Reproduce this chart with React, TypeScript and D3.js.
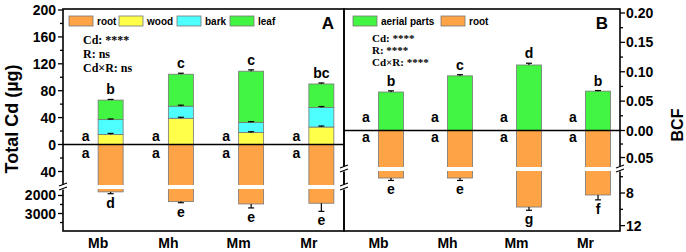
import React from "react";
import * as d3 from "d3";

const categories = ["Mb", "Mh", "Mm", "Mr"];
// Panel A (µg)
const woodA = [15, 39, 18, 26];
const barkA = [22, 18, 15, 29];
const leafA = [29, 47.5, 76, 35];
const woodErr = [1.5, 1.5, 1, 1.5];
const barkErr = [1, 1.5, 1, 1.5];
const leafErr = [1, 1.5, 2, 1.5];
const rootA = [1800, 2340, 2470, 2430];
const rootAErr = [100, 60, 220, 450];
const shootLetters = ["b", "c", "c", "bc"];
const rootALetters = ["d", "e", "e", "e"];
const statsA = ["Cd: ****", "R: ns", "Cd×R: ns"];
const legendA = ["root", "wood", "bark", "leaf"];
// Panel B (BCF)
const aerialB = [0.0655, 0.093, 0.1115, 0.067];
const aerialErr = [0.002, 0.002, 0.003, 0.001];
const rootB = [6.16, 6.16, 9.72, 8.24];
const rootBErr = [0.3, 0.3, 0.4, 0.6];
const aerialLetters = ["b", "c", "d", "b"];
const rootBLetters = ["e", "e", "g", "f"];
const statsB = ["Cd: ****", "R: ****", "Cd×R: ****"];
const legendB = ["aerial parts", "root"];
// ticks
const ticksAUp = [0, 40, 80, 120, 160, 200];
const minorAUp = [20, 60, 100, 140, 180];
const ticksANegUp = [40];
const minorANegUp = [20];
const ticksANegLow = [2000, 3000];
const minorANegLow = [2500, 3500];
const ticksBUp = [0, 0.05, 0.1, 0.15, 0.2];
const minorBUp = [0.025, 0.075, 0.125, 0.175];
const ticksBNegUp = [0.05];
const minorBNegUp = [0.025];
const ticksBNegLow = [8, 12];
const minorBNegLow = [6, 10];

const C = {
  root: "#FFA347",
  wood: "#FFFF4A",
  bark: "#4DFFFF",
  leaf: "#42F542",
};
const SANS = "'Liberation Sans', Arial, sans-serif";
const SERIF = "'Liberation Serif', 'Times New Roman', serif";

const TOP = 9;
const BOT = 231;
const AX0 = 63;
const MID = 344;
const AX1 = 620;

export default function App() {
  const xA = d3.scaleBand<string>().domain(categories).range([AX0, MID]);
  const yAUp = d3.scaleLinear().domain([0, 200]).range([144.5, 10]);
  const yANegUp = d3.scaleLinear().domain([0, 60]).range([144.5, 185]);
  const yANegLow = d3.scaleLinear().domain([1640, 3970]).range([189, BOT]);
  const gapA = [185, 189];
  const yANeg = (v: number) => (v <= 60 ? yANegUp(v) : yANegLow(v));

  const xB = d3.scaleBand<string>().domain(categories).range([MID, AX1]);
  const yBUp = d3.scaleLinear().domain([0, 0.2]).range([130.5, 13]);
  const yBNegUp = d3.scaleLinear().domain([0, 0.0675]).range([130.5, 167]);
  const yBNegLow = d3.scaleLinear().domain([5.3, 12.66]).range([171, BOT]);
  const gapB = [167, 171];
  const yBNeg = (v: number) => (v <= 0.0675 ? yBNegUp(v) : yBNegLow(v));

  const bw = 25;
  const off = 12.5;

  const err = (x: number, y0: number, y1: number, key: string) => (
    <g key={key} stroke="#000" strokeWidth={1.2}>
      <line x1={x} x2={x} y1={y0} y2={y1} />
      <line x1={x - 3} x2={x + 3} y1={y1} y2={y1} />
    </g>
  );

  const brk = (x: number, y: number, key: string) => (
    <g key={key}>
      <rect x={x - 4} y={y - 2.5} width={8} height={5} fill="#fff" />
      <line x1={x - 4} y1={y - 1} x2={x + 4} y2={y - 4} stroke="#000" strokeWidth={1.2} />
      <line x1={x - 4} y1={y + 3} x2={x + 4} y2={y} stroke="#000" strokeWidth={1.2} />
    </g>
  );

  const letter = (x: number, y: number, t: string, key: string) => (
    <text key={key} x={x} y={y} textAnchor="middle" fontFamily={SANS} fontWeight="bold" fontSize={14}>
      {t}
    </text>
  );

  const leftTick = (y: number, len: number, key: string, label?: string) => (
    <g key={key}>
      <line x1={AX0 - len} x2={AX0} y1={y} y2={y} stroke="#000" strokeWidth={1.3} />
      {label !== undefined && (
        <text x={AX0 - 7} y={y + 5} textAnchor="end" fontFamily={SANS} fontWeight="bold" fontSize={14}>
          {label}
        </text>
      )}
    </g>
  );
  const rightTick = (y: number, len: number, key: string, label?: string) => (
    <g key={key}>
      <line x1={AX1} x2={AX1 + len} y1={y} y2={y} stroke="#000" strokeWidth={1.3} />
      {label !== undefined && (
        <text x={AX1 + 6} y={y + 5} textAnchor="start" fontFamily={SANS} fontWeight="bold" fontSize={14}>
          {label}
        </text>
      )}
    </g>
  );

  return (
    <svg width={686} height={252} style={{ position: "absolute", left: 0, top: 0 }}>
      <rect width={686} height={252} fill="#fff" />

      {categories.map((c, i) => {
        const cx = (xA(c) as number) + xA.bandwidth() / 2;
        const bx = cx + off - bw / 2;
        const w = woodA[i];
        const b = w + barkA[i];
        const l = b + leafA[i];
        const rootBottom = yANeg(rootA[i]);
        return (
          <g key={"a" + c}>
            <rect x={bx} y={yAUp(w)} width={bw} height={yAUp(0) - yAUp(w)} fill={C.wood} stroke="#777" strokeWidth={0.8} />
            <rect x={bx} y={yAUp(b)} width={bw} height={yAUp(w) - yAUp(b)} fill={C.bark} stroke="#777" strokeWidth={0.8} />
            <rect x={bx} y={yAUp(l)} width={bw} height={yAUp(b) - yAUp(l)} fill={C.leaf} stroke="#777" strokeWidth={0.8} />
            {err(cx + off, yAUp(w), yAUp(w + woodErr[i]), "we")}
            {err(cx + off, yAUp(b), yAUp(b + barkErr[i]), "be")}
            {err(cx + off, yAUp(l), yAUp(l + leafErr[i]), "le")}
            <rect x={bx} y={yANeg(0)} width={bw} height={rootBottom - yANeg(0)} fill={C.root} stroke="#777" strokeWidth={0.8} />
            <rect x={bx - 1} y={gapA[0]} width={bw + 2} height={gapA[1] - gapA[0]} fill="#fff" />
            {err(cx + off, rootBottom, yANeg(rootA[i] + rootAErr[i]), "re")}
            {letter(cx + off, yAUp(l + leafErr[i]) - 5, shootLetters[i], "sl")}
            {letter(cx + off, yANeg(rootA[i] + rootAErr[i]) + 14, rootALetters[i], "rl")}
            {letter(cx - off, 140.5, "a", "ca1")}
            {letter(cx - off, 158, "a", "ca2")}
            <text x={cx} y={248} textAnchor="middle" fontFamily={SANS} fontWeight="bold" fontSize={14}>
              {c}
            </text>
          </g>
        );
      })}

      {categories.map((c, i) => {
        const cx = (xB(c) as number) + xB.bandwidth() / 2;
        const bx = cx + off - bw / 2;
        const top = yBUp(aerialB[i]);
        const rb = yBNeg(rootB[i]);
        return (
          <g key={"b" + c}>
            <rect x={bx} y={top} width={bw} height={yBUp(0) - top} fill={C.leaf} stroke="#777" strokeWidth={0.8} />
            {err(cx + off, top, yBUp(aerialB[i] + aerialErr[i]), "ae")}
            <rect x={bx} y={yBNeg(0)} width={bw} height={rb - yBNeg(0)} fill={C.root} stroke="#777" strokeWidth={0.8} />
            <rect x={bx - 1} y={gapB[0]} width={bw + 2} height={gapB[1] - gapB[0]} fill="#fff" />
            {err(cx + off, rb, yBNeg(rootB[i] + rootBErr[i]), "re")}
            {letter(cx + off, yBUp(aerialB[i] + aerialErr[i]) - 5, aerialLetters[i], "al")}
            {letter(cx + off, yBNeg(rootB[i] + rootBErr[i]) + 14, rootBLetters[i], "rl")}
            {letter(cx - off, 122, "a", "ca1")}
            {letter(cx - off, 142, "a", "ca2")}
            <text x={cx} y={248} textAnchor="middle" fontFamily={SANS} fontWeight="bold" fontSize={14}>
              {c}
            </text>
          </g>
        );
      })}

      <line x1={AX0} x2={MID} y1={yAUp(0)} y2={yAUp(0)} stroke="#000" strokeWidth={1.3} />
      <line x1={MID} x2={AX1} y1={yBUp(0)} y2={yBUp(0)} stroke="#000" strokeWidth={1.3} />

      <rect x={AX0} y={TOP} width={MID - AX0} height={BOT - TOP} fill="none" stroke="#000" strokeWidth={1.6} />
      <rect x={MID} y={TOP} width={AX1 - MID} height={BOT - TOP} fill="none" stroke="#000" strokeWidth={1.6} />

      {ticksAUp.map((t) => leftTick(yAUp(t), 5, "tu" + t, String(t)))}
      {minorAUp.map((t) => leftTick(yAUp(t), 3, "mu" + t))}
      {ticksANegUp.map((t) => leftTick(yANegUp(t), 5, "tn" + t, String(t)))}
      {minorANegUp.map((t) => leftTick(yANegUp(t), 3, "mn" + t))}
      {ticksANegLow.map((t) => leftTick(yANegLow(t), 5, "tl" + t, String(t)))}
      {minorANegLow.map((t) => leftTick(yANegLow(t), 3, "ml" + t))}

      {ticksBUp.map((t) => rightTick(yBUp(t), 5, "bu" + t, t.toFixed(2)))}
      {minorBUp.map((t) => rightTick(yBUp(t), 3, "bmu" + t))}
      {ticksBNegUp.map((t) => rightTick(yBNegUp(t), 5, "bn" + t, t.toFixed(2)))}
      {minorBNegUp.map((t) => rightTick(yBNegUp(t), 3, "bmn" + t))}
      {ticksBNegLow.map((t) => rightTick(yBNegLow(t), 5, "bl" + t, String(t)))}
      {minorBNegLow.map((t) => rightTick(yBNegLow(t), 3, "bml" + t))}

      {brk(AX0, 187, "b1")}
      {brk(MID, 187, "b2")}
      {brk(MID, 169, "b3")}
      {brk(AX1, 169, "b4")}

      <text transform="translate(18,119) rotate(-90)" textAnchor="middle" fontFamily={SANS} fontWeight="bold" fontSize={18}>
        Total Cd (µg)
      </text>
      <text transform="translate(683,125) rotate(-90)" textAnchor="middle" fontFamily={SANS} fontWeight="bold" fontSize={16}>
        BCF
      </text>

      <text x={328} y={29} textAnchor="middle" fontFamily={SANS} fontWeight="bold" fontSize={17}>A</text>
      <text x={602} y={29} textAnchor="middle" fontFamily={SANS} fontWeight="bold" fontSize={17}>B</text>

      {legendA.map((name, i) => {
        const xs = [69, 119, 177, 230];
        const cols = [C.root, C.wood, C.bark, C.leaf];
        return (
          <g key={"lg" + name}>
            <rect x={xs[i]} y={16} width={24} height={10} fill={cols[i]} stroke="#777" strokeWidth={0.8} />
            <text x={xs[i] + 28} y={25} fontFamily={SANS} fontWeight="bold" fontSize={10}>{name}</text>
          </g>
        );
      })}
      {legendB.map((name, i) => {
        const xs = [353, 441];
        const cols = [C.leaf, C.root];
        return (
          <g key={"lgb" + name}>
            <rect x={xs[i]} y={16} width={24} height={10} fill={cols[i]} stroke="#777" strokeWidth={0.8} />
            <text x={xs[i] + 28} y={25} fontFamily={SANS} fontWeight="bold" fontSize={10}>{name}</text>
          </g>
        );
      })}

      {statsA.map((s, i) => (
        <text key={"sa" + i} x={83} y={44 + i * 14} fontFamily={SERIF} fontWeight="bold" fontSize={12}>{s}</text>
      ))}
      {statsB.map((s, i) => (
        <text key={"sb" + i} x={372} y={42 + i * 12} fontFamily={SERIF} fontWeight="bold" fontSize={11}>{s}</text>
      ))}
    </svg>
  );
}
